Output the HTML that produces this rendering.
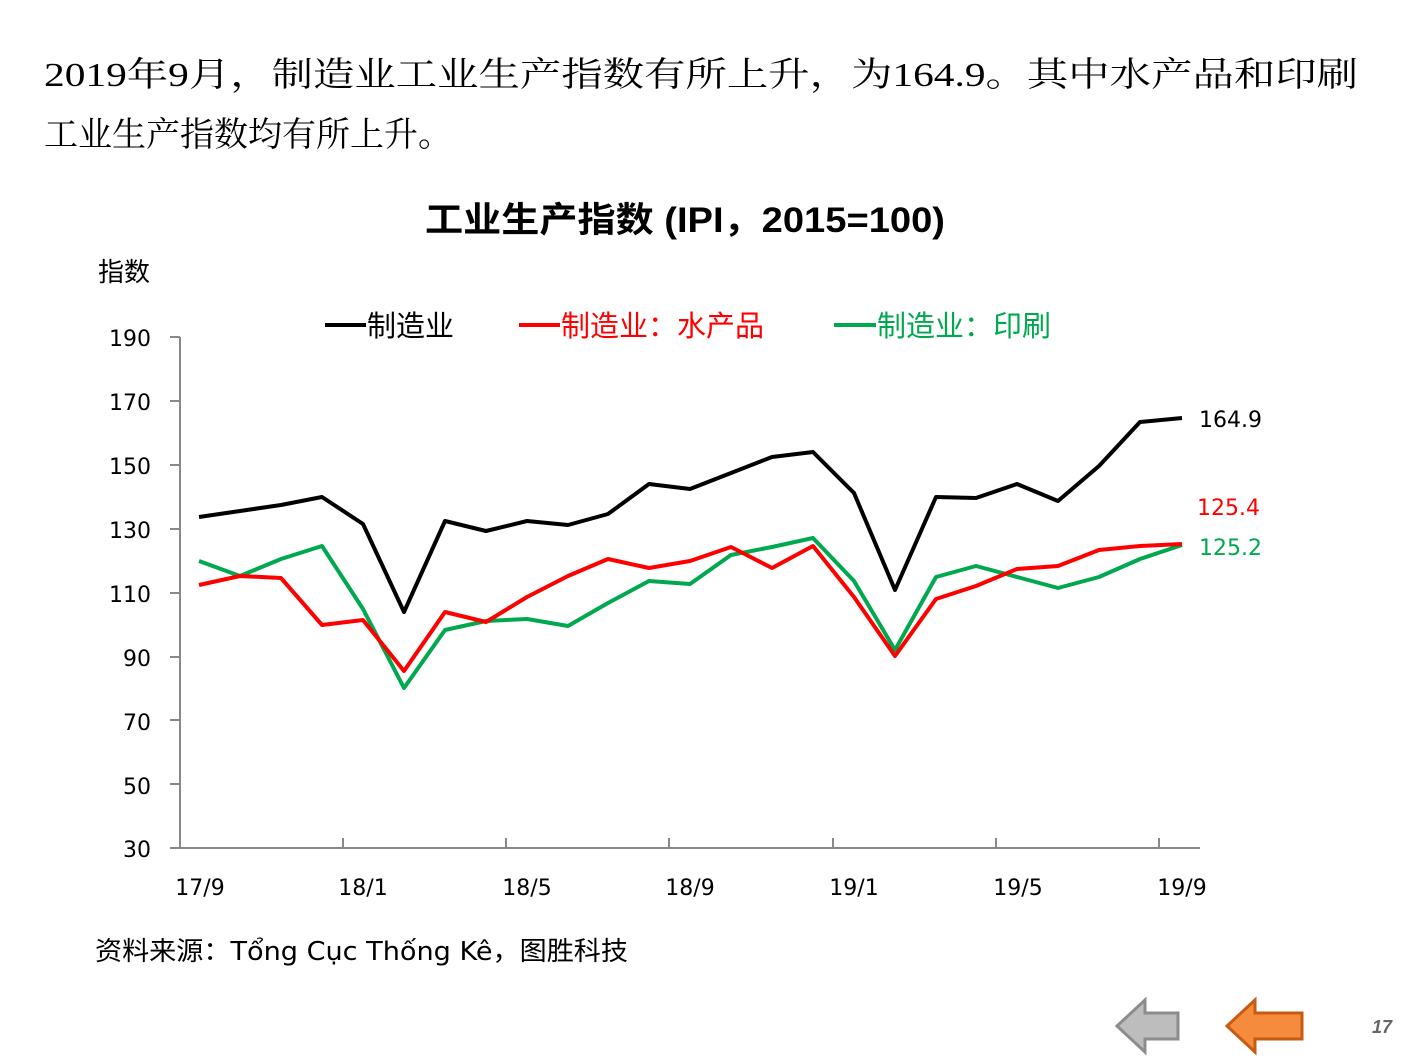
<!DOCTYPE html>
<html><head><meta charset="utf-8"><style>
body{margin:0;background:#fff;width:1411px;height:1058px;overflow:hidden;}
</style></head><body>
<svg width="1411" height="1058" xmlns="http://www.w3.org/2000/svg">
<g font-family="'Liberation Serif','Noto Serif CJK SC',serif" font-size="34" fill="#000">
<text x="44" y="86" textLength="1314" lengthAdjust="spacingAndGlyphs">2019年9月，制造业工业生产指数有所上升，为164.9。其中水产品和印刷</text>
<text x="44" y="146">工业生产指数均有所上升。</text>
</g>
<text x="425" y="232" textLength="520" lengthAdjust="spacingAndGlyphs" font-family="'Liberation Sans','Noto Sans CJK SC',sans-serif" font-size="35" font-weight="bold">工业生产指数 (IPI，2015=100)</text>
<g font-family="'DejaVu Sans','Noto Sans CJK SC',sans-serif" font-size="22">
<text x="98" y="281" font-size="26">指数</text>
<g text-anchor="end">
<text x="151" y="346">190</text><text x="151" y="410">170</text><text x="151" y="474">150</text><text x="151" y="538">130</text><text x="151" y="602">110</text><text x="151" y="666">90</text><text x="151" y="730">70</text><text x="151" y="794">50</text><text x="151" y="857">30</text>
</g>
<g text-anchor="middle">
<text x="200" y="895">17/9</text><text x="363" y="895">18/1</text><text x="527" y="895">18/5</text><text x="690" y="895">18/9</text><text x="854" y="895">19/1</text><text x="1018" y="895">19/5</text><text x="1182" y="895">19/9</text>
</g>
<text x="1199" y="427">164.9</text>
<text x="1197" y="515" fill="#ff0000">125.4</text>
<text x="1199" y="555" fill="#00a84f">125.2</text>
<text x="95" y="960" font-size="26" textLength="533" lengthAdjust="spacingAndGlyphs">资料来源：Tổng Cục Thống Kê，图胜科技</text>
<g font-size="29" font-family="'Liberation Sans','Noto Sans CJK SC',sans-serif">
<line x1="325" y1="325" x2="366" y2="325" stroke="#000" stroke-width="4"/><text x="367" y="336">制造业</text>
<line x1="519" y1="325" x2="560" y2="325" stroke="#ff0000" stroke-width="4"/><text x="561" y="336" fill="#ff0000">制造业：水产品</text>
<line x1="834" y1="325" x2="876" y2="325" stroke="#00a84f" stroke-width="4"/><text x="877" y="336" fill="#00a84f">制造业：印刷</text>
</g>
</g>
<g stroke="#888" stroke-width="2" fill="none">
<path d="M180 337V848H1200"/>
<path d="M170 337H180M170 401H180M170 465H180M170 529H180M170 593H180M170 657H180M170 720H180M170 784H180M170 848H180"/>
<path d="M343 838V848M506 838V848M669 838V848M833 838V848M996 838V848M1159 838V848"/>
</g>
<g fill="none" stroke-width="4" stroke-linejoin="round">
<polyline stroke="#00a84f" points="199,561 240,576 281,559 322,546 363,609 404,688 445,630 486,621 527,619 568,626 608,603 649,581 690,584 731,555 772,547 813,538 854,581 895,650 936,577 976,566 1017,577 1058,588 1099,577 1140,559 1182,545"/>
<polyline stroke="#ff0000" points="199,585 240,576 281,578 322,625 363,620 404,671 445,612 486,622 527,597 568,576 608,559 649,568 690,561 731,547 772,568 813,546 854,597 895,656 936,599 976,586 1017,569 1058,566 1099,550 1140,546 1182,544"/>
<polyline stroke="#000" points="199,517 240,511 281,505 322,497 363,524 404,612 445,521 486,531 527,521 568,525 608,514 649,484 690,489 731,473 772,457 813,452 854,493 895,590 936,497 976,498 1017,484 1058,501 1099,466 1140,422 1182,418"/>
</g>
<polygon points="1117,1026 1145,1000 1145,1013 1178,1013 1178,1039 1145,1039 1145,1052" fill="#bdbdbd" stroke="#8c8c8c" stroke-width="3"/>
<polygon points="1227,1026 1255,1000 1255,1013 1302,1013 1302,1039 1255,1039 1255,1052" fill="#f58b3c" stroke="#c85a12" stroke-width="3"/>
<text x="1382" y="1033" text-anchor="middle" font-family="'Liberation Sans',sans-serif" font-size="18" font-style="italic" font-weight="bold" fill="#666">17</text>
</svg>
</body></html>
